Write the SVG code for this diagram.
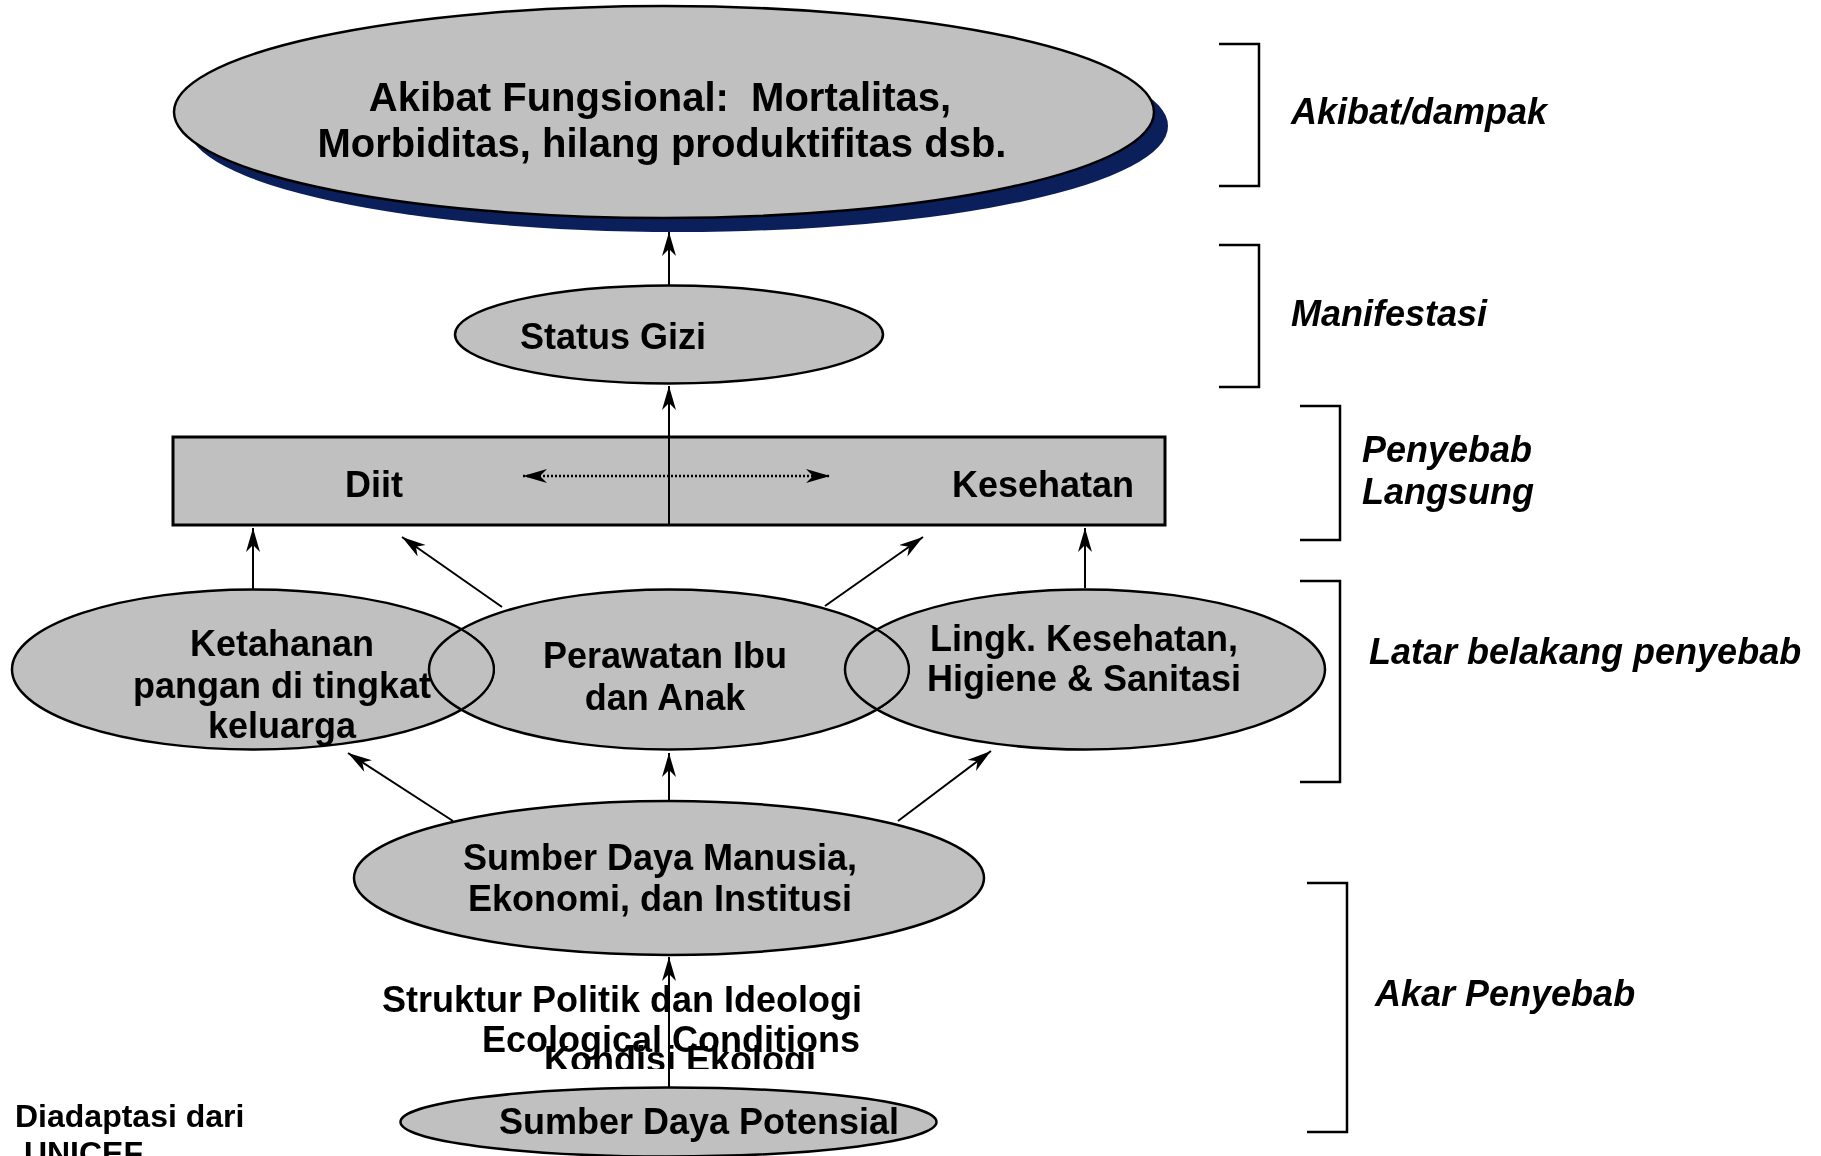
<svg xmlns="http://www.w3.org/2000/svg" width="1821" height="1156" viewBox="0 0 1821 1156">
<defs>
<marker id="ah" markerWidth="26" markerHeight="16" refX="24" refY="7" orient="auto-start-reverse" markerUnits="userSpaceOnUse">
<path d="M0,0 L24,7 L0,14 L7,7 z" fill="#000"/>
</marker>
<clipPath id="kclip"><rect x="0" y="0" width="1821" height="1069"/></clipPath>
</defs>
<style>
.node ellipse, .node rect {fill:#C0C0C0; stroke:#000; stroke-width:2.5}
.node rect {stroke-width:3}
.node .shadow {fill:#0B1F5B; stroke:none}
.t {font-family:"Liberation Sans", Arial, sans-serif; font-weight:bold; font-size:36px; fill:#000; text-anchor:middle}
.lbl {font-family:"Liberation Sans", Arial, sans-serif; font-weight:bold; font-style:italic; font-size:36px; fill:#000}
.br {fill:none; stroke:#000; stroke-width:2.5}
.c line {stroke:#000; stroke-width:2; fill:none; marker-end:url(#ah)}
.blend {mix-blend-mode:darken}
</style>
<rect x="0" y="0" width="1821" height="1156" fill="#fff"/>

<g id="akibat" class="node">
<ellipse class="shadow" cx="678" cy="126" rx="490" ry="106"/>
<ellipse cx="664" cy="112" rx="490" ry="106"/>
<text class="t" style="font-size:40px; white-space:pre" x="660" y="111">Akibat Fungsional:  Mortalitas,</text>
<text class="t" style="font-size:40px" x="662" y="157">Morbiditas, hilang produktifitas dsb.</text>
</g>

<g id="status-gizi" class="node">
<ellipse cx="669" cy="334.5" rx="214" ry="49"/>
<text class="t" x="613" y="349">Status Gizi</text>
</g>

<g id="diit-kesehatan" class="node">
<rect x="173" y="437" width="992" height="88"/>
<text class="t" x="374" y="497">Diit</text>
<text class="t" x="1043" y="497">Kesehatan</text>
</g>

<g id="ketahanan" class="node blend">
<ellipse cx="253" cy="669.5" rx="241" ry="80"/>
<text class="t" x="282" y="656">Ketahanan</text>
<text class="t" x="282" y="698">pangan di tingkat</text>
<text class="t" x="282" y="738">keluarga</text>
</g>

<g id="perawatan" class="node blend">
<ellipse cx="669" cy="669.5" rx="240" ry="80"/>
<text class="t" x="665" y="668">Perawatan Ibu</text>
<text class="t" x="665" y="710">dan Anak</text>
</g>

<g id="lingkungan" class="node blend">
<ellipse cx="1085" cy="669.5" rx="240" ry="80"/>
<text class="t" x="1084" y="651">Lingk. Kesehatan,</text>
<text class="t" x="1084" y="691">Higiene &amp; Sanitasi</text>
</g>

<g id="sdm" class="node">
<ellipse cx="669" cy="878" rx="315" ry="77"/>
<text class="t" x="660" y="870">Sumber Daya Manusia,</text>
<text class="t" x="660" y="911">Ekonomi, dan Institusi</text>
</g>

<g id="potensial" class="node">
<ellipse cx="668.5" cy="1122" rx="268" ry="34.5"/>
<text class="t" x="699" y="1134">Sumber Daya Potensial</text>
</g>

<g id="connectors" class="c">
<line x1="669" y1="285" x2="669" y2="232"/>
<line x1="669" y1="525" x2="669" y2="386"/>
<line x1="253" y1="590" x2="253" y2="528"/>
<line x1="502" y1="607" x2="402" y2="537"/>
<line x1="825" y1="606" x2="923" y2="537"/>
<line x1="1085" y1="588" x2="1085" y2="528"/>
<line x1="453" y1="821" x2="348" y2="753"/>
<line x1="669" y1="801" x2="669" y2="753"/>
<line x1="898" y1="821" x2="991" y2="751"/>
<line x1="669" y1="1088" x2="669" y2="957"/>
<line x1="523" y1="476" x2="830" y2="476" style="stroke-dasharray:2 2; stroke-width:2.5; marker-start:url(#ah)"/>
</g>

<g id="root-texts">
<text class="t" x="622" y="1012">Struktur Politik dan Ideologi</text>
<text class="t" x="680" y="1072" clip-path="url(#kclip)">Kondisi Ekologi</text>
<text class="t" x="671" y="1052">Ecological Conditions</text>
</g>

<g id="source">
<text class="t" style="font-size:32px; text-anchor:start" x="15" y="1127">Diadaptasi dari</text>
<text class="t" style="font-size:32px; text-anchor:start; white-space:pre" x="15" y="1164"> UNICEF</text>
</g>

<g id="brackets">
<polyline class="br" points="1219,44 1259,44 1259,186 1219,186"/>
<polyline class="br" points="1219,245 1259,245 1259,387 1219,387"/>
<polyline class="br" points="1300,406 1340,406 1340,540 1300,540"/>
<polyline class="br" points="1300,581 1340,581 1340,782 1300,782"/>
<polyline class="br" points="1307,883 1347,883 1347,1132 1307,1132"/>
</g>

<g id="level-labels">
<text class="lbl" x="1291" y="124">Akibat/dampak</text>
<text class="lbl" x="1291" y="326">Manifestasi</text>
<text class="lbl" x="1362" y="462">Penyebab</text>
<text class="lbl" x="1362" y="504">Langsung</text>
<text class="lbl" x="1369" y="664">Latar belakang penyebab</text>
<text class="lbl" x="1375" y="1006">Akar Penyebab</text>
</g>
</svg>
